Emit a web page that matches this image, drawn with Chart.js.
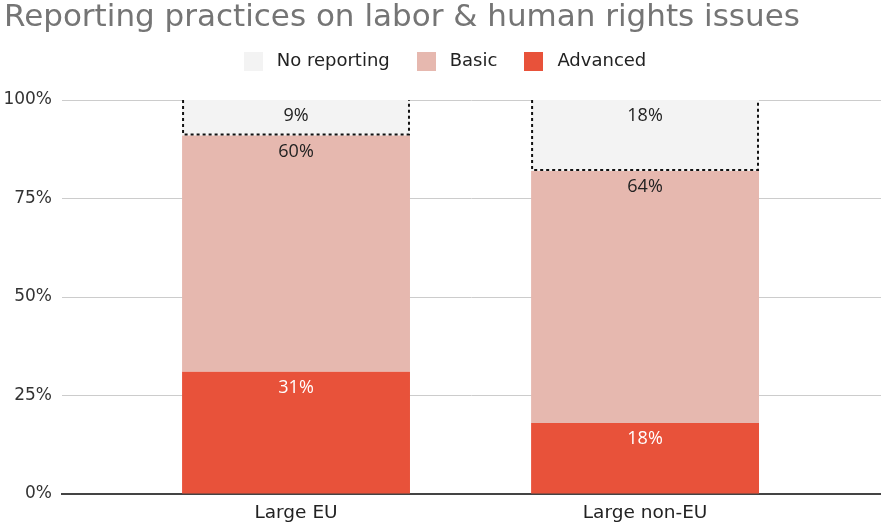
<!DOCTYPE html>
<html>
<head>
<meta charset="utf-8">
<script src="https://cdn.jsdelivr.net/npm/chart.js@4/dist/chart.umd.min.js"></script>
<style>
  html, body { margin: 0; padding: 0; background: #ffffff; }
  #wrap { width: 881px; height: 524px; position: relative; }
</style>
</head>
<body>
<div id="wrap"><canvas id="c" width="881" height="524"></canvas></div>
<script>
const titleText = 'Reporting practices on labor & human rights issues';
const categories = ['Large EU', 'Large non-EU'];
const seriesNames = ['Advanced', 'Basic', 'No reporting'];
const advanced = [31, 18];
const basic = [60, 64];
const noReporting = [9, 18];
const yTickValues = [0, 25, 50, 75, 100];

const colors = ['#e8523a', '#e6b8af', '#f3f3f3'];
const labelColors = ['#ffffff', '#222222', '#222222'];
const FONT = '"DejaVu Sans", Verdana, sans-serif';

function toPoints(arr) { return arr.map((v, i) => ({ x: i, y: v })); }

function swatch(color) {
  const cv = document.createElement('canvas');
  cv.width = 19; cv.height = 19;
  const g = cv.getContext('2d');
  g.fillStyle = color;
  g.fillRect(0, 0, 19, 19);
  return cv;
}
const swatches = colors.map(swatch);

const labelPlugin = {
  id: 'barLabels',
  afterDatasetsDraw(chart) {
    const ctx = chart.ctx;
    ctx.save();
    chart.data.datasets.forEach((ds, di) => {
      const meta = chart.getDatasetMeta(di);
      meta.data.forEach((el, i) => {
        const top = Math.min(el.y, el.base);
        const bottom = Math.max(el.y, el.base);
        const half = el.width / 2;
        if (di === 2) {
          ctx.save();
          ctx.strokeStyle = '#111111';
          ctx.lineWidth = 2;
          ctx.setLineDash([3, 3]);
          ctx.beginPath();
          ctx.moveTo(el.x - half + 1, top);
          ctx.lineTo(el.x - half + 1, bottom - 1);
          ctx.lineTo(el.x + half - 1, bottom - 1);
          ctx.lineTo(el.x + half - 1, top);
          ctx.stroke();
          ctx.restore();
        }
        ctx.fillStyle = labelColors[di];
        ctx.font = '18px "Open Sans", "Noto Sans", sans-serif';
        ctx.textAlign = 'center';
        ctx.textBaseline = 'middle';
        ctx.fillText(ds.data[i].y + '%', el.x, top + 16);
      });
    });
    ctx.restore();
  }
};

new Chart(document.getElementById('c'), {
  type: 'bar',
  data: {
    datasets: [
      { label: seriesNames[0], data: toPoints(advanced), backgroundColor: colors[0], borderWidth: 0 },
      { label: seriesNames[1], data: toPoints(basic), backgroundColor: colors[1], borderWidth: 0 },
      { label: seriesNames[2], data: toPoints(noReporting), backgroundColor: colors[2], borderWidth: 0 }
    ]
  },
  options: {
    responsive: false,
    animation: false,
    events: [],
    barPercentage: 0.653,
    categoryPercentage: 1,
    layout: { padding: { left: 4, right: 0, top: 0, bottom: 0 } },
    plugins: {
      title: {
        display: true,
        text: titleText,
        align: 'start',
        color: '#757575',
        font: { family: FONT, size: 31, weight: 'normal', lineHeight: 0.8 },
        padding: { top: 5.2, bottom: 0 }
      },
      subtitle: {
        display: true,
        text: '',
        position: 'top',
        weight: 500,
        font: { size: 1, lineHeight: 1 },
        padding: { top: 0, bottom: 19 }
      },
      legend: {
        display: true,
        reverse: true,
        labels: {
          usePointStyle: true,
          pointStyleWidth: 29,
          boxHeight: 19,
          padding: 22,
          color: '#222222',
          font: { family: FONT, size: 18 },
          generateLabels(chart) {
            const items = Chart.defaults.plugins.legend.labels.generateLabels(chart);
            items.forEach(it => { it.pointStyle = swatches[it.datasetIndex]; it.lineWidth = 0; });
            return items;
          }
        }
      },
      tooltip: { enabled: false }
    },
    scales: {
      x: {
        type: 'linear',
        stacked: true,
        offset: false,
        min: -0.6705,
        max: 1.676,
        grid: { display: false, offset: false },
        border: { display: true, color: '#444444', width: 2 },
        afterBuildTicks(s) { s.ticks = categories.map((c, i) => ({ value: i })); },
        afterFit(s) { s.height = 30; },
        ticks: {
          padding: 0,
          color: '#222222',
          font: { family: FONT, size: 18.5 },
          maxRotation: 0,
          autoSkip: false,
          callback: (v) => categories[v]
        }
      },
      y: {
        stacked: true,
        min: 0,
        max: 100,
        afterBuildTicks(s) { s.ticks = yTickValues.map(v => ({ value: v })); },
        afterFit(s) { s.width = 58; },
        grid: { color: '#cccccc', lineWidth: 1, drawTicks: false },
        border: { display: false },
        ticks: {
          padding: 10,
          color: '#333333',
          font: { family: FONT, size: 17 },
          callback: (v) => v + '%'
        }
      }
    }
  },
  plugins: [labelPlugin]
});
</script>
</body>
</html>
